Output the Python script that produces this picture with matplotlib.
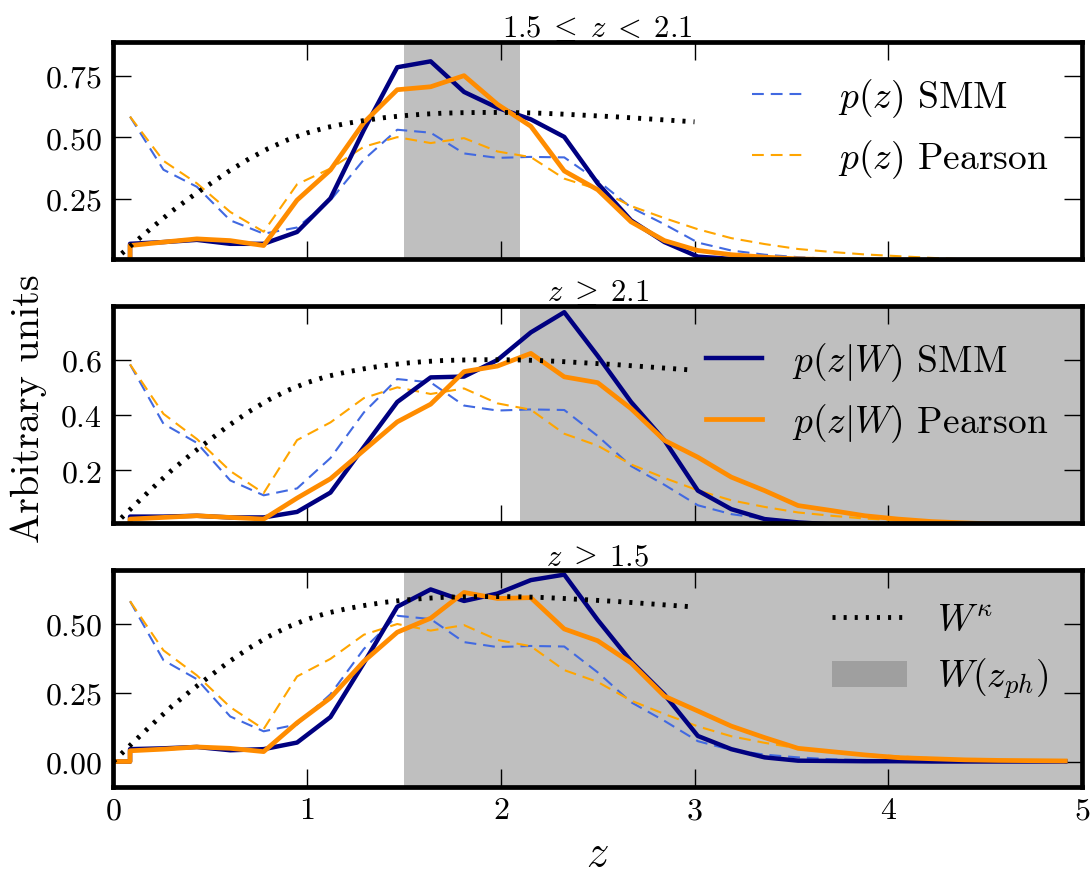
import numpy as np
import matplotlib
matplotlib.use("Agg")
import matplotlib.pyplot as plt
import matplotlib as mpl
from matplotlib.ticker import MultipleLocator

mpl.rcParams.update({
    "font.family": "serif", "font.serif": ["cmr10"],
    "mathtext.fontset": "cm", "axes.unicode_minus": False,
    "axes.formatter.use_mathtext": True,
    "lines.scale_dashes": False,
})

# redshift bins: 29 bins between 0 and 5, values at bin centres
edges = np.linspace(0, 5, 30)
z_mid = 0.5 * (edges[1:] + edges[:-1])

# photometric p(z), same in every panel
p_smm = [0.584, 0.369, 0.300, 0.164, 0.110, 0.135, 0.245, 0.410, 0.531, 0.519,
         0.435, 0.417, 0.421, 0.419, 0.325, 0.216, 0.148, 0.074, 0.042, 0.025,
         0.015, 0.008, 0.005, 0.003, 0.002, 0.001, 0.001, 0.0, 0.0]
p_pea = [0.584, 0.405, 0.314, 0.198, 0.118, 0.310, 0.374, 0.462, 0.501, 0.477,
         0.497, 0.443, 0.420, 0.333, 0.290, 0.222, 0.173, 0.128, 0.092, 0.068,
         0.048, 0.036, 0.026, 0.019, 0.012, 0.006, 0.003, 0.002, 0.001]

# weighted p(z|W) per redshift cut
w1_smm = [0.069, 0.076, 0.085, 0.069, 0.069, 0.117, 0.253, 0.530, 0.784, 0.808,
          0.684, 0.620, 0.573, 0.502, 0.314, 0.164, 0.076, 0.017, 0.008, 0.004,
          0.002, 0.001, 0.001, 0.0, 0.0, 0.0, 0.0, 0.0, 0.0]
w1_pea = [0.062, 0.076, 0.089, 0.082, 0.062, 0.246, 0.368, 0.560, 0.693, 0.705,
          0.750, 0.634, 0.545, 0.364, 0.288, 0.158, 0.082, 0.042, 0.025, 0.015,
          0.008, 0.005, 0.003, 0.002, 0.001, 0.001, 0.0, 0.0, 0.0]
w2_smm = [0.033, 0.033, 0.036, 0.030, 0.030, 0.050, 0.120, 0.285, 0.448, 0.537,
          0.540, 0.600, 0.700, 0.773, 0.615, 0.448, 0.309, 0.127, 0.060, 0.024,
          0.012, 0.005, 0.003, 0.002, 0.001, 0.0, 0.0, 0.0, 0.0]
w2_pea = [0.024, 0.030, 0.036, 0.030, 0.024, 0.100, 0.170, 0.273, 0.376, 0.440,
          0.558, 0.578, 0.624, 0.539, 0.518, 0.424, 0.309, 0.248, 0.176, 0.127,
          0.073, 0.055, 0.036, 0.024, 0.015, 0.010, 0.006, 0.004, 0.003]
w3_smm = [0.045, 0.048, 0.053, 0.041, 0.045, 0.069, 0.162, 0.359, 0.564, 0.627,
          0.585, 0.612, 0.661, 0.681, 0.516, 0.365, 0.244, 0.093, 0.045, 0.015,
          0.003, 0.002, 0.001, 0.001, 0.0, 0.0, 0.0, 0.0, 0.0]
w3_pea = [0.039, 0.045, 0.053, 0.048, 0.036, 0.141, 0.232, 0.365, 0.471, 0.522,
          0.616, 0.594, 0.597, 0.483, 0.440, 0.359, 0.238, 0.184, 0.129, 0.087,
          0.048, 0.036, 0.024, 0.014, 0.010, 0.006, 0.004, 0.003, 0.002]

# lensing kernel W^kappa
wk_z = [0.0, 0.1, 0.2, 0.3, 0.4, 0.5, 0.6, 0.7, 0.8, 0.9, 1.0, 1.1, 1.2, 1.3, 1.4,
        1.5, 1.6, 1.7, 1.8, 1.9, 2.0, 2.1, 2.2, 2.3, 2.4, 2.5, 2.6, 2.7, 2.8, 2.9, 3.0]
wk = [0.0, 0.068, 0.135, 0.2, 0.258, 0.312, 0.365, 0.413, 0.455, 0.49, 0.518, 0.54,
      0.556, 0.569, 0.58, 0.588, 0.594, 0.598, 0.60, 0.601, 0.601, 0.60, 0.598,
      0.595, 0.591, 0.587, 0.583, 0.578, 0.573, 0.568, 0.563]

titles = [r"$1.5 \; \leq \; z \; < \; 2.1$", r"$z \; \geq \; 2.1$", r"$z \; \geq \; 1.5$"]
windows = [(1.5, 2.1), (2.1, 5.0), (1.5, 5.0)]
solids = [(w1_smm, w1_pea), (w2_smm, w2_pea), (w3_smm, w3_pea)]
ylims = [(0.008, 0.886), (0.01, 0.795), (-0.093, 0.697)]
ysteps = [0.25, 0.2, 0.25]

z_sol = np.r_[0.0, z_mid[0], z_mid]

fig, axes = plt.subplots(3, 1, figsize=(10.92, 8.79), dpi=100, sharex=True)
fig.subplots_adjust(left=0.1038, right=0.9908, bottom=0.1035, top=0.951, hspace=0.218)

for i, ax in enumerate(axes):
    span = ax.axvspan(*windows[i], color="gray", alpha=0.5, lw=0, zorder=0,
                      label=r"$W(z_{ph})$")
    l1, = ax.plot(z_mid, p_smm, color="royalblue", lw=1.5, dashes=(8.5, 5),
                  label=r"$p(z)$ SMM")
    l2, = ax.plot(z_mid, p_pea, color="orange", lw=1.5, dashes=(8.5, 5),
                  label=r"$p(z)$ Pearson")
    s_smm, s_pea = solids[i]
    l3, = ax.plot(z_sol, np.r_[0, 0, s_smm], color="navy", lw=3.2,
                  label=r"$p(z|W)$ SMM")
    l4, = ax.plot(z_sol, np.r_[0, 0, s_pea], color="darkorange", lw=3.4,
                  label=r"$p(z|W)$ Pearson")
    l5, = ax.plot(wk_z, wk, color="black", lw=3.5, dashes=(2.2, 5.8),
                  dash_capstyle="butt", label=r"$W^{\kappa}$")
    ax.set_xlim(0, 5)
    ax.set_ylim(*ylims[i])
    ax.yaxis.set_major_locator(MultipleLocator(ysteps[i]))
    ax.xaxis.set_major_locator(MultipleLocator(1))
    ax.set_title(titles[i], fontsize=22, pad=4)
    for sp in ax.spines.values():
        sp.set_linewidth(3.4)
    ax.tick_params(direction="in", length=13, width=1.0, top=True, right=True,
                   labelsize=23, pad=8)
    ax.tick_params(axis="x", pad=7)
    if i == 0:
        handles, hl = [l1, l2], 1.5
    elif i == 1:
        handles, hl = [l3, l4], 1.5
    else:
        handles, hl = [l5, span], 2.0
    ax.legend(handles=handles, loc="upper right", frameon=False, fontsize=27,
              handlelength=hl)

fig.text(0.026, 0.535, "Arbitrary units", rotation=90, ha="center", va="center",
         fontsize=29)
fig.text(0.547, 0.027, "$z$", ha="center", va="center", fontsize=32)

fig.savefig("out.png", dpi=100)
